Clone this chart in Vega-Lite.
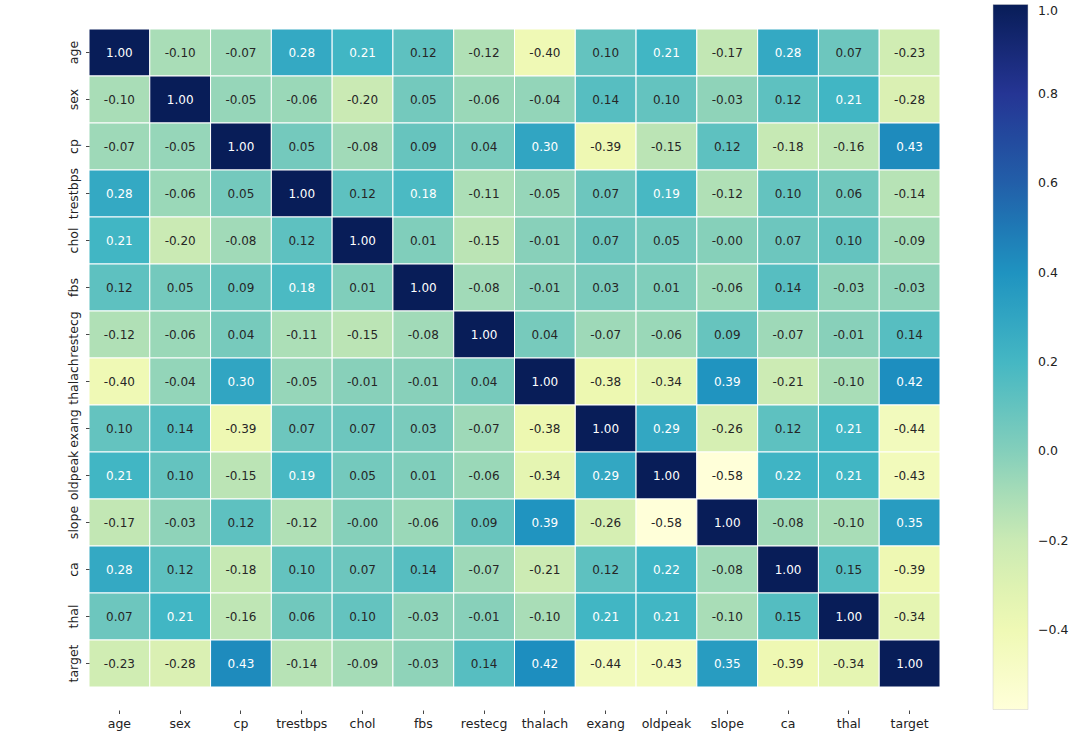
{
  "$schema": "https://vega.github.io/schema/vega-lite/v6.json",
  "width": 851,
  "height": 658,
  "padding": {"left": 89, "top": 29, "right": 143, "bottom": 65},
  "autosize": {"type": "none"},
  "background": "white",
  "config": {
    "view": {"stroke": null},
    "font": "DejaVu Sans",
    "axis": {"labelFont": "DejaVu Sans", "labelFontSize": 12.5, "labelColor": "#222222", "tickColor": "#333333", "tickSize": 3.5, "tickWidth": 0.9, "domain": false, "grid": false, "title": null, "labelPadding": 3.5},
    "legend": {"labelFont": "DejaVu Sans", "labelFontSize": 12.5, "labelColor": "#222222"}
  },
  "data": {"values": [
    {"r":"age","c":"age","v":1.00,"t":"1.00"},{"r":"age","c":"sex","v":-0.10,"t":"-0.10"},{"r":"age","c":"cp","v":-0.07,"t":"-0.07"},{"r":"age","c":"trestbps","v":0.28,"t":"0.28"},{"r":"age","c":"chol","v":0.21,"t":"0.21"},{"r":"age","c":"fbs","v":0.12,"t":"0.12"},{"r":"age","c":"restecg","v":-0.12,"t":"-0.12"},{"r":"age","c":"thalach","v":-0.40,"t":"-0.40"},{"r":"age","c":"exang","v":0.10,"t":"0.10"},{"r":"age","c":"oldpeak","v":0.21,"t":"0.21"},{"r":"age","c":"slope","v":-0.17,"t":"-0.17"},{"r":"age","c":"ca","v":0.28,"t":"0.28"},{"r":"age","c":"thal","v":0.07,"t":"0.07"},{"r":"age","c":"target","v":-0.23,"t":"-0.23"},
    {"r":"sex","c":"age","v":-0.10,"t":"-0.10"},{"r":"sex","c":"sex","v":1.00,"t":"1.00"},{"r":"sex","c":"cp","v":-0.05,"t":"-0.05"},{"r":"sex","c":"trestbps","v":-0.06,"t":"-0.06"},{"r":"sex","c":"chol","v":-0.20,"t":"-0.20"},{"r":"sex","c":"fbs","v":0.05,"t":"0.05"},{"r":"sex","c":"restecg","v":-0.06,"t":"-0.06"},{"r":"sex","c":"thalach","v":-0.04,"t":"-0.04"},{"r":"sex","c":"exang","v":0.14,"t":"0.14"},{"r":"sex","c":"oldpeak","v":0.10,"t":"0.10"},{"r":"sex","c":"slope","v":-0.03,"t":"-0.03"},{"r":"sex","c":"ca","v":0.12,"t":"0.12"},{"r":"sex","c":"thal","v":0.21,"t":"0.21"},{"r":"sex","c":"target","v":-0.28,"t":"-0.28"},
    {"r":"cp","c":"age","v":-0.07,"t":"-0.07"},{"r":"cp","c":"sex","v":-0.05,"t":"-0.05"},{"r":"cp","c":"cp","v":1.00,"t":"1.00"},{"r":"cp","c":"trestbps","v":0.05,"t":"0.05"},{"r":"cp","c":"chol","v":-0.08,"t":"-0.08"},{"r":"cp","c":"fbs","v":0.09,"t":"0.09"},{"r":"cp","c":"restecg","v":0.04,"t":"0.04"},{"r":"cp","c":"thalach","v":0.30,"t":"0.30"},{"r":"cp","c":"exang","v":-0.39,"t":"-0.39"},{"r":"cp","c":"oldpeak","v":-0.15,"t":"-0.15"},{"r":"cp","c":"slope","v":0.12,"t":"0.12"},{"r":"cp","c":"ca","v":-0.18,"t":"-0.18"},{"r":"cp","c":"thal","v":-0.16,"t":"-0.16"},{"r":"cp","c":"target","v":0.43,"t":"0.43"},
    {"r":"trestbps","c":"age","v":0.28,"t":"0.28"},{"r":"trestbps","c":"sex","v":-0.06,"t":"-0.06"},{"r":"trestbps","c":"cp","v":0.05,"t":"0.05"},{"r":"trestbps","c":"trestbps","v":1.00,"t":"1.00"},{"r":"trestbps","c":"chol","v":0.12,"t":"0.12"},{"r":"trestbps","c":"fbs","v":0.18,"t":"0.18"},{"r":"trestbps","c":"restecg","v":-0.11,"t":"-0.11"},{"r":"trestbps","c":"thalach","v":-0.05,"t":"-0.05"},{"r":"trestbps","c":"exang","v":0.07,"t":"0.07"},{"r":"trestbps","c":"oldpeak","v":0.19,"t":"0.19"},{"r":"trestbps","c":"slope","v":-0.12,"t":"-0.12"},{"r":"trestbps","c":"ca","v":0.10,"t":"0.10"},{"r":"trestbps","c":"thal","v":0.06,"t":"0.06"},{"r":"trestbps","c":"target","v":-0.14,"t":"-0.14"},
    {"r":"chol","c":"age","v":0.21,"t":"0.21"},{"r":"chol","c":"sex","v":-0.20,"t":"-0.20"},{"r":"chol","c":"cp","v":-0.08,"t":"-0.08"},{"r":"chol","c":"trestbps","v":0.12,"t":"0.12"},{"r":"chol","c":"chol","v":1.00,"t":"1.00"},{"r":"chol","c":"fbs","v":0.01,"t":"0.01"},{"r":"chol","c":"restecg","v":-0.15,"t":"-0.15"},{"r":"chol","c":"thalach","v":-0.01,"t":"-0.01"},{"r":"chol","c":"exang","v":0.07,"t":"0.07"},{"r":"chol","c":"oldpeak","v":0.05,"t":"0.05"},{"r":"chol","c":"slope","v":-0.004,"t":"-0.00"},{"r":"chol","c":"ca","v":0.07,"t":"0.07"},{"r":"chol","c":"thal","v":0.10,"t":"0.10"},{"r":"chol","c":"target","v":-0.09,"t":"-0.09"},
    {"r":"fbs","c":"age","v":0.12,"t":"0.12"},{"r":"fbs","c":"sex","v":0.05,"t":"0.05"},{"r":"fbs","c":"cp","v":0.09,"t":"0.09"},{"r":"fbs","c":"trestbps","v":0.18,"t":"0.18"},{"r":"fbs","c":"chol","v":0.01,"t":"0.01"},{"r":"fbs","c":"fbs","v":1.00,"t":"1.00"},{"r":"fbs","c":"restecg","v":-0.08,"t":"-0.08"},{"r":"fbs","c":"thalach","v":-0.01,"t":"-0.01"},{"r":"fbs","c":"exang","v":0.03,"t":"0.03"},{"r":"fbs","c":"oldpeak","v":0.01,"t":"0.01"},{"r":"fbs","c":"slope","v":-0.06,"t":"-0.06"},{"r":"fbs","c":"ca","v":0.14,"t":"0.14"},{"r":"fbs","c":"thal","v":-0.03,"t":"-0.03"},{"r":"fbs","c":"target","v":-0.03,"t":"-0.03"},
    {"r":"restecg","c":"age","v":-0.12,"t":"-0.12"},{"r":"restecg","c":"sex","v":-0.06,"t":"-0.06"},{"r":"restecg","c":"cp","v":0.04,"t":"0.04"},{"r":"restecg","c":"trestbps","v":-0.11,"t":"-0.11"},{"r":"restecg","c":"chol","v":-0.15,"t":"-0.15"},{"r":"restecg","c":"fbs","v":-0.08,"t":"-0.08"},{"r":"restecg","c":"restecg","v":1.00,"t":"1.00"},{"r":"restecg","c":"thalach","v":0.04,"t":"0.04"},{"r":"restecg","c":"exang","v":-0.07,"t":"-0.07"},{"r":"restecg","c":"oldpeak","v":-0.06,"t":"-0.06"},{"r":"restecg","c":"slope","v":0.09,"t":"0.09"},{"r":"restecg","c":"ca","v":-0.07,"t":"-0.07"},{"r":"restecg","c":"thal","v":-0.01,"t":"-0.01"},{"r":"restecg","c":"target","v":0.14,"t":"0.14"},
    {"r":"thalach","c":"age","v":-0.40,"t":"-0.40"},{"r":"thalach","c":"sex","v":-0.04,"t":"-0.04"},{"r":"thalach","c":"cp","v":0.30,"t":"0.30"},{"r":"thalach","c":"trestbps","v":-0.05,"t":"-0.05"},{"r":"thalach","c":"chol","v":-0.01,"t":"-0.01"},{"r":"thalach","c":"fbs","v":-0.01,"t":"-0.01"},{"r":"thalach","c":"restecg","v":0.04,"t":"0.04"},{"r":"thalach","c":"thalach","v":1.00,"t":"1.00"},{"r":"thalach","c":"exang","v":-0.38,"t":"-0.38"},{"r":"thalach","c":"oldpeak","v":-0.34,"t":"-0.34"},{"r":"thalach","c":"slope","v":0.39,"t":"0.39"},{"r":"thalach","c":"ca","v":-0.21,"t":"-0.21"},{"r":"thalach","c":"thal","v":-0.10,"t":"-0.10"},{"r":"thalach","c":"target","v":0.42,"t":"0.42"},
    {"r":"exang","c":"age","v":0.10,"t":"0.10"},{"r":"exang","c":"sex","v":0.14,"t":"0.14"},{"r":"exang","c":"cp","v":-0.39,"t":"-0.39"},{"r":"exang","c":"trestbps","v":0.07,"t":"0.07"},{"r":"exang","c":"chol","v":0.07,"t":"0.07"},{"r":"exang","c":"fbs","v":0.03,"t":"0.03"},{"r":"exang","c":"restecg","v":-0.07,"t":"-0.07"},{"r":"exang","c":"thalach","v":-0.38,"t":"-0.38"},{"r":"exang","c":"exang","v":1.00,"t":"1.00"},{"r":"exang","c":"oldpeak","v":0.29,"t":"0.29"},{"r":"exang","c":"slope","v":-0.26,"t":"-0.26"},{"r":"exang","c":"ca","v":0.12,"t":"0.12"},{"r":"exang","c":"thal","v":0.21,"t":"0.21"},{"r":"exang","c":"target","v":-0.44,"t":"-0.44"},
    {"r":"oldpeak","c":"age","v":0.21,"t":"0.21"},{"r":"oldpeak","c":"sex","v":0.10,"t":"0.10"},{"r":"oldpeak","c":"cp","v":-0.15,"t":"-0.15"},{"r":"oldpeak","c":"trestbps","v":0.19,"t":"0.19"},{"r":"oldpeak","c":"chol","v":0.05,"t":"0.05"},{"r":"oldpeak","c":"fbs","v":0.01,"t":"0.01"},{"r":"oldpeak","c":"restecg","v":-0.06,"t":"-0.06"},{"r":"oldpeak","c":"thalach","v":-0.34,"t":"-0.34"},{"r":"oldpeak","c":"exang","v":0.29,"t":"0.29"},{"r":"oldpeak","c":"oldpeak","v":1.00,"t":"1.00"},{"r":"oldpeak","c":"slope","v":-0.5775,"t":"-0.58"},{"r":"oldpeak","c":"ca","v":0.22,"t":"0.22"},{"r":"oldpeak","c":"thal","v":0.21,"t":"0.21"},{"r":"oldpeak","c":"target","v":-0.43,"t":"-0.43"},
    {"r":"slope","c":"age","v":-0.17,"t":"-0.17"},{"r":"slope","c":"sex","v":-0.03,"t":"-0.03"},{"r":"slope","c":"cp","v":0.12,"t":"0.12"},{"r":"slope","c":"trestbps","v":-0.12,"t":"-0.12"},{"r":"slope","c":"chol","v":-0.004,"t":"-0.00"},{"r":"slope","c":"fbs","v":-0.06,"t":"-0.06"},{"r":"slope","c":"restecg","v":0.09,"t":"0.09"},{"r":"slope","c":"thalach","v":0.39,"t":"0.39"},{"r":"slope","c":"exang","v":-0.26,"t":"-0.26"},{"r":"slope","c":"oldpeak","v":-0.5775,"t":"-0.58"},{"r":"slope","c":"slope","v":1.00,"t":"1.00"},{"r":"slope","c":"ca","v":-0.08,"t":"-0.08"},{"r":"slope","c":"thal","v":-0.10,"t":"-0.10"},{"r":"slope","c":"target","v":0.35,"t":"0.35"},
    {"r":"ca","c":"age","v":0.28,"t":"0.28"},{"r":"ca","c":"sex","v":0.12,"t":"0.12"},{"r":"ca","c":"cp","v":-0.18,"t":"-0.18"},{"r":"ca","c":"trestbps","v":0.10,"t":"0.10"},{"r":"ca","c":"chol","v":0.07,"t":"0.07"},{"r":"ca","c":"fbs","v":0.14,"t":"0.14"},{"r":"ca","c":"restecg","v":-0.07,"t":"-0.07"},{"r":"ca","c":"thalach","v":-0.21,"t":"-0.21"},{"r":"ca","c":"exang","v":0.12,"t":"0.12"},{"r":"ca","c":"oldpeak","v":0.22,"t":"0.22"},{"r":"ca","c":"slope","v":-0.08,"t":"-0.08"},{"r":"ca","c":"ca","v":1.00,"t":"1.00"},{"r":"ca","c":"thal","v":0.15,"t":"0.15"},{"r":"ca","c":"target","v":-0.39,"t":"-0.39"},
    {"r":"thal","c":"age","v":0.07,"t":"0.07"},{"r":"thal","c":"sex","v":0.21,"t":"0.21"},{"r":"thal","c":"cp","v":-0.16,"t":"-0.16"},{"r":"thal","c":"trestbps","v":0.06,"t":"0.06"},{"r":"thal","c":"chol","v":0.10,"t":"0.10"},{"r":"thal","c":"fbs","v":-0.03,"t":"-0.03"},{"r":"thal","c":"restecg","v":-0.01,"t":"-0.01"},{"r":"thal","c":"thalach","v":-0.10,"t":"-0.10"},{"r":"thal","c":"exang","v":0.21,"t":"0.21"},{"r":"thal","c":"oldpeak","v":0.21,"t":"0.21"},{"r":"thal","c":"slope","v":-0.10,"t":"-0.10"},{"r":"thal","c":"ca","v":0.15,"t":"0.15"},{"r":"thal","c":"thal","v":1.00,"t":"1.00"},{"r":"thal","c":"target","v":-0.34,"t":"-0.34"},
    {"r":"target","c":"age","v":-0.23,"t":"-0.23"},{"r":"target","c":"sex","v":-0.28,"t":"-0.28"},{"r":"target","c":"cp","v":0.43,"t":"0.43"},{"r":"target","c":"trestbps","v":-0.14,"t":"-0.14"},{"r":"target","c":"chol","v":-0.09,"t":"-0.09"},{"r":"target","c":"fbs","v":-0.03,"t":"-0.03"},{"r":"target","c":"restecg","v":0.14,"t":"0.14"},{"r":"target","c":"thalach","v":0.42,"t":"0.42"},{"r":"target","c":"exang","v":-0.44,"t":"-0.44"},{"r":"target","c":"oldpeak","v":-0.43,"t":"-0.43"},{"r":"target","c":"slope","v":0.35,"t":"0.35"},{"r":"target","c":"ca","v":-0.39,"t":"-0.39"},{"r":"target","c":"thal","v":-0.34,"t":"-0.34"},{"r":"target","c":"target","v":1.00,"t":"1.00"}
  ]},
  "encoding": {
    "x": {"field": "c", "type": "nominal", "sort": ["age","sex","cp","trestbps","chol","fbs","restecg","thalach","exang","oldpeak","slope","ca","thal","target"], "scale": {"paddingInner": 0, "paddingOuter": 0}, "axis": {"labelAngle": 0, "offset": 23, "orient": "bottom", "labelOverlap": false}},
    "y": {"field": "r", "type": "nominal", "sort": ["age","sex","cp","trestbps","chol","fbs","restecg","thalach","exang","oldpeak","slope","ca","thal","target"], "scale": {"paddingInner": 0, "paddingOuter": 0}, "axis": {"labelAngle": 270, "labelAlign": "center", "labelBaseline": "bottom", "labelOverlap": false, "labelLimit": 0, "labelPadding": 5}}
  },
  "layer": [
    {
      "mark": {"type": "rect", "stroke": "white", "strokeWidth": 1},
      "encoding": {
        "color": {
          "field": "v", "type": "quantitative",
          "scale": {"type": "linear", "domain": [-0.5775, -0.38034, -0.18319, 0.01397, 0.21113, 0.40828, 0.60544, 0.80259, 1.0], "range": ["#ffffd9", "#edf8b1", "#c7e9b4", "#7fcdbb", "#41b6c4", "#1d91c0", "#225ea8", "#253494", "#081d58"], "interpolate": "rgb"},
          "legend": {"title": null, "orient": "none", "legendX": 904, "legendY": -24.5, "direction": "vertical", "gradientLength": 705, "gradientThickness": 35, "values": [-0.4, -0.2, 0, 0.2, 0.4, 0.6, 0.8, 1.0], "format": ".1f", "labelOffset": 10, "labelBaseline": "middle", "labelOverlap": false, "gradientStrokeColor": "#cccccc", "gradientStrokeWidth": 0.5}
        }
      }
    },
    {
      "mark": {"type": "text", "font": "DejaVu Sans", "fontSize": 12},
      "encoding": {
        "text": {"field": "t", "type": "nominal"},
        "color": {"condition": {"test": "datum.v >= 0.17", "value": "#ffffff"}, "value": "#262626"}
      }
    }
  ]
}
